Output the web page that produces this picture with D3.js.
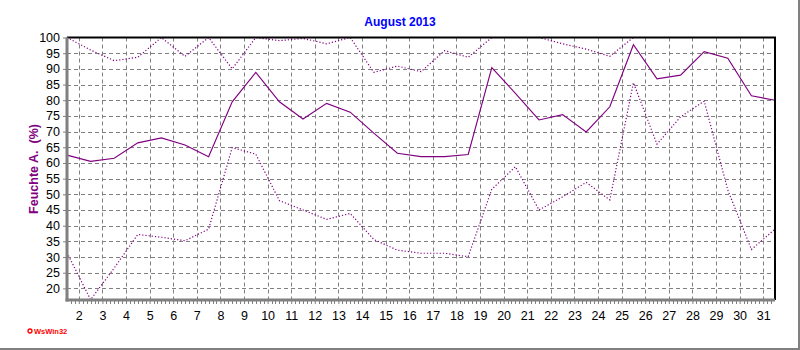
<!DOCTYPE html>
<html><head><meta charset="utf-8">
<script src="https://cdn.jsdelivr.net/npm/d3@7"></script>
<style>body{margin:0;background:#fff}svg{display:block;font-family:"Liberation Sans",Arial,sans-serif}</style>
</head><body>
<svg id="c" width="800" height="350"></svg>
<script>
const days = d3.range(1, 32);
const meanHum = [62.5,60.5,61.5,66.4,68.0,65.7,62.0,79.5,88.9,79.5,74.0,79.0,76.2,69.5,63.1,62.0,62.0,62.7,90.4,82.2,73.7,75.4,69.9,77.9,97.7,86.8,88.0,95.5,93.4,81.4,80.0];
const maxHum = [100,96,92.6,93.7,100,94,100,90,100,99,99.7,98,100,88.9,90.9,89.1,95.8,93.7,100,100,100,98,96.3,94,100,100,100,100,100,100,100];
const minHum = [31.4,16.4,26.5,37.2,36.3,35.2,38.9,64.9,62.8,48.0,45.0,42.0,43.9,35.6,32.2,31.2,31.2,30.1,51.6,58.8,45.0,49.2,53.8,48.2,85.6,66.0,74.7,79.7,51.4,32.4,38.9];
const yTicks = [20,25,30,35,40,45,50,55,60,65,70,75,80,85,90,95,100];
const xTicks = d3.range(2, 32);
const title = "August 2013";
const yLabel = "Feuchte A.\u00a0\u00a0(%)";

const svg = d3.select("#c");
const L = 67, R = 775, T = 37.5, B = 300;
const x = d3.scaleLinear().domain([1.5, 31.5]).range([L, R]);
const y = d3.scaleLinear().domain([16.3, 100]).range([B, T]);
const purple = "#800080", grey = "#808080";

// outer panel edges
svg.append("line").attr("x1",0).attr("x2",800).attr("y1",349).attr("y2",349).attr("stroke",grey).attr("stroke-width",2);
svg.append("line").attr("x1",799).attr("x2",799).attr("y1",0).attr("y2",350).attr("stroke",grey).attr("stroke-width",2);

// grid
const g = svg.append("g");
g.selectAll(".hg").data(yTicks.filter(v => v < 100)).join("line")
  .attr("x1", L).attr("x2", R).attr("y1", d => Math.round(y(d))+0.5).attr("y2", d => Math.round(y(d))+0.5)
  .attr("stroke", grey).attr("stroke-dasharray","4,3");
g.selectAll(".vg").data(xTicks).join("line")
  .attr("x1", d => Math.round(x(d))+0.5).attr("x2", d => Math.round(x(d))+0.5).attr("y1", T).attr("y2", B)
  .attr("stroke", grey).attr("stroke-dasharray","4,3");

// series
const px = (d,i) => x(days[i] + 0.5);
const line = d3.line().x((d,i) => px(d,i)).y(d => y(d));
svg.append("path").datum(maxHum).attr("d", line).attr("fill","none").attr("stroke",purple).attr("stroke-width",1.2).attr("stroke-dasharray","1.2,2");
svg.append("path").datum(minHum).attr("d", line).attr("fill","none").attr("stroke",purple).attr("stroke-width",1.2).attr("stroke-dasharray","1.2,2");
svg.append("path").datum(meanHum).attr("d", line).attr("fill","none").attr("stroke",purple).attr("stroke-width",1.15);

// frame: top & right black
svg.append("line").attr("x1",L).attr("x2",R+1).attr("y1",T).attr("y2",T).attr("stroke","#000").attr("stroke-width",2);
svg.append("line").attr("x1",R).attr("x2",R).attr("y1",T).attr("y2",B).attr("stroke","#000").attr("stroke-width",2);

// y axis
const ya = svg.append("g").attr("transform",`translate(${L},0)`)
  .call(d3.axisLeft(y).tickValues(yTicks).tickSize(4).tickPadding(3).tickFormat(d3.format("d")));
ya.select(".domain").attr("stroke",grey).attr("stroke-width",3).attr("d",`M0,${T}V${B+1.5}`);
ya.selectAll(".tick line").attr("stroke",grey);
ya.selectAll(".tick text").attr("font-size",12.5).attr("fill","#000").attr("font-family","Liberation Sans, Arial, sans-serif");

// x axis
const xa = svg.append("g").attr("transform",`translate(0,${B})`)
  .call(d3.axisBottom(x).tickValues(xTicks).tickSize(4).tickPadding(7).tickFormat(d3.format("d")));
xa.select(".domain").attr("stroke",grey).attr("stroke-width",3).attr("d",`M${L-1.5},0H${R}`);
xa.selectAll(".tick line").attr("stroke",grey);
xa.selectAll(".tick text").attr("font-size",12.5).attr("fill","#000").attr("font-family","Liberation Sans, Arial, sans-serif");
// minor ticks
const minor = d3.range(1.5 + 1/6, 31.5, 1/6).filter(v => Math.abs(v - Math.round(v)) > 0.01);
svg.append("g").selectAll("line").data(minor).join("line")
  .attr("x1", d => Math.round(x(d))+0.5).attr("x2", d => Math.round(x(d))+0.5)
  .attr("y1", B+1).attr("y2", B+4).attr("stroke", grey);

// title
svg.append("text").attr("x", 400).attr("y", 26).attr("text-anchor","middle")
  .attr("font-size",12).attr("font-weight","bold").attr("fill","#0000ff").text(title);
// y label
svg.append("text").attr("transform","translate(38,169) rotate(-90)").attr("text-anchor","middle")
  .attr("font-size",12.5).attr("font-weight","bold").attr("fill",purple).text(yLabel);

// footer
svg.append("circle").attr("cx",30).attr("cy",331).attr("r",2).attr("fill","none").attr("stroke","#ff0000").attr("stroke-width",1.3);
svg.append("text").attr("x",34).attr("y",334).attr("font-size",7.5).attr("font-weight","bold").attr("fill","#ff0000").text("WsWin32");
</script>
</body></html>
